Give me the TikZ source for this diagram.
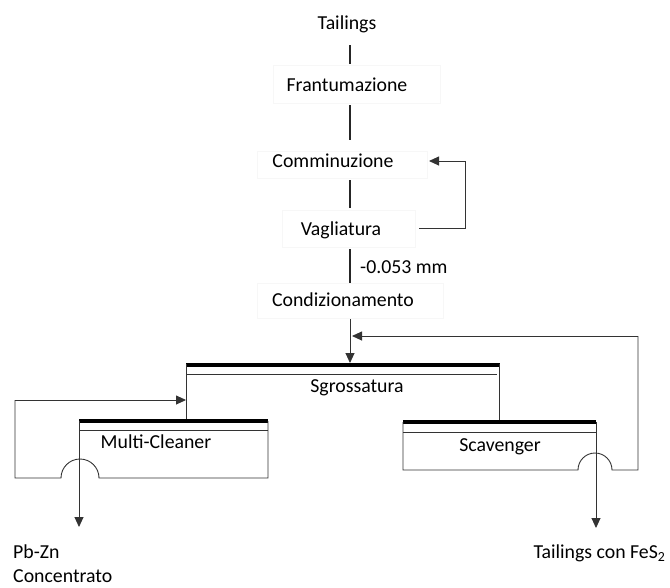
\documentclass[tikz,border=0pt]{standalone}
\usepackage{fontspec}
\setmainfont{Carlito}
\usetikzlibrary{arrows.meta}
\begin{document}
\begin{tikzpicture}[x=1pt,y=-1pt,
  lbl/.style={inner sep=0pt, font=\fontsize{19.8}{24}\selectfont, anchor=base},
  lblw/.style={lbl, anchor=base west},
  ln/.style={line width=1.1pt, black!85},
  thn/.style={line width=0.9pt, black!80},
  thk/.style={line width=3.2pt, black},
  arr/.style={thn, -{Triangle[length=10pt,width=9pt]}},
  faint/.style={draw=black!3, line width=0.6pt}]
\useasboundingbox (0,0) rectangle (670,587);

% faint frames
\draw[faint] (273,65) rectangle (440,103);
\draw[faint] (257,151) rectangle (427,178);
\draw[faint] (282,210) rectangle (415,247);
\draw[faint] (257,283) rectangle (443,318);

% text nodes
\node[lbl] (tail) at (347,29) {Tailings};
\node[lbl] (fran) at (347,91.5) {Frantumazione};
\node[lbl] (comm) at (333,167.5) {Comminuzione};
\node[lbl] (vagl) at (341,235.5) {Vagliatura};
\node[lblw] (mesh) at (360,273.5) {-0.053 mm};
\node[lbl] (cond) at (343,306.5) {Condizionamento};
\node[lbl] (sgro) at (357,392.5) {Sgrossatura};
\node[lbl] (mult) at (156,448) {Multi-Cleaner};
\node[lbl] (scav) at (500,451) {Scavenger};
\node[lblw] (pbzn) at (13,558.5) {Pb-Zn};
\node[lblw] (conc) at (13,582) {Concentrato};
\node[lbl] (tfes) at (599.5,558.5) {Tailings con FeS\textsubscript{2}};

% vertical connectors of the upper chain
\coordinate (a1) at (350,45); \coordinate (a2) at (350,64);
\coordinate (b1) at (350,105); \coordinate (b2) at (350,140);
\coordinate (c1) at (350,180); \coordinate (c2) at (350,208);
\coordinate (d1) at (350,249); \coordinate (d2) at (350,283);
\draw[ln] (a1) -- (a2);
\draw[ln] (b1) -- (b2);
\draw[ln] (c1) -- (c2);
\draw[ln] (d1) -- (d2);

% recycle loop Vagliatura -> Comminuzione
\coordinate (v1) at (419,228);
\coordinate (v2) at (465,228);
\coordinate (v3) at (465,161);
\coordinate (v4) at (429,161);
\draw[arr] (v1) -- (v2) -- (v3) -- (v4);

% Condizionamento -> Sgrossatura
\coordinate (e1) at (350,319);
\coordinate (e2) at (350,363);
\draw[arr] (e1) -- (e2);

% Sgrossatura cell
\coordinate (sgTL) at (186,365); \coordinate (sgTR) at (500,365);
\draw[thk] (sgTL) -- (sgTR);
\draw[thn] (186,374) -- (497,374);
\coordinate (sgR) at (499,364);
\coordinate (scTop) at (499,422);
\draw[thn] (sgR) -- (scTop);
\coordinate (sgL) at (186,364);
\coordinate (mcTop) at (186,421);
\draw[thn] (sgL) -- (mcTop);

% Multi-Cleaner cell
\draw[thk] (79,421) -- (268,421);
\draw[thn] (79,430) -- (268,430);
\draw[thn] (268,421) -- (268,478) -- (99,478) arc[start angle=0,end angle=180,x radius=19,y radius=-19] -- (15,478) -- (15,400);
\coordinate (lp1) at (15,400);
\coordinate (lp2) at (186,400);
\draw[arr] (lp1) -- (lp2);
\coordinate (mcL) at (79,421);
\coordinate (mcOut) at (79,527);
\draw[arr] (mcL) -- (mcOut);

% Scavenger cell
\draw[thk] (403,422) -- (596,422);
\draw[thn] (403,432) -- (596,432);
\draw[thn] (403,422) -- (403,470) -- (578,470) arc[start angle=180,end angle=0,x radius=17,y radius=-17] -- (638,470) -- (638,336);
\coordinate (rp1) at (638,336);
\coordinate (rp2) at (352,336);
\draw[arr] (rp1) -- (rp2);
\coordinate (scR) at (596,422);
\coordinate (scOut) at (596,528);
\draw[arr] (scR) -- (scOut);
\end{tikzpicture}
\end{document}
